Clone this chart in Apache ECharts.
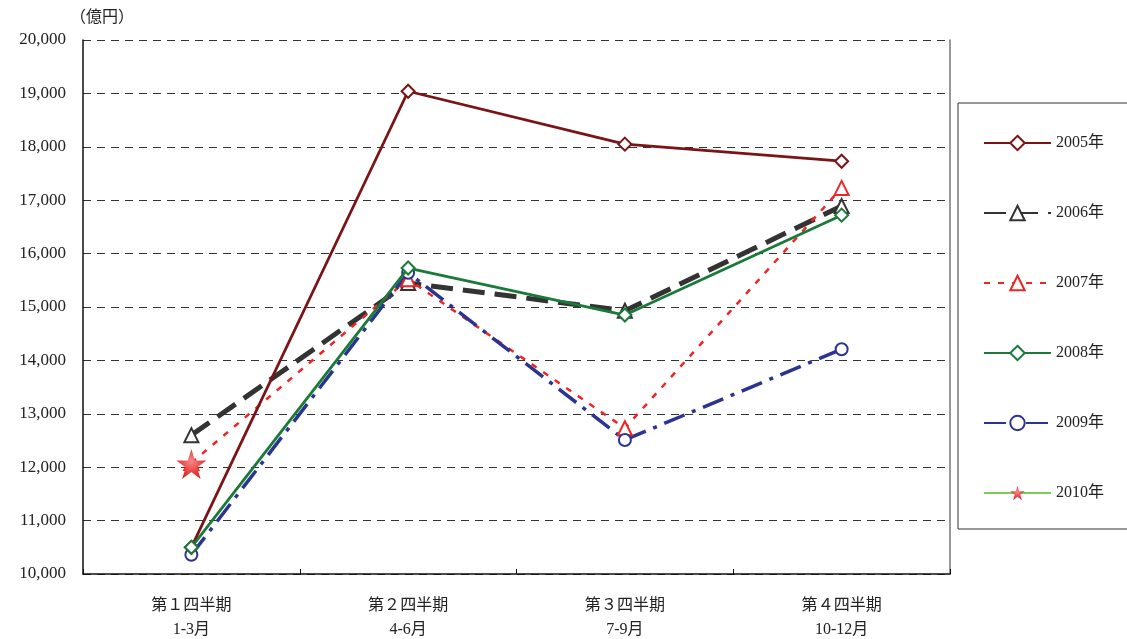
<!DOCTYPE html>
<html>
<head>
<meta charset="utf-8">
<script src="https://cdn.jsdelivr.net/npm/echarts@6/dist/echarts.min.js"></script>
<style>
html,body{margin:0;padding:0;background:#fff;}
#c{width:1127px;height:639px;}
</style>
</head>
<body>
<div id="c"></div>
<script>
const categories = ['第１四半期\n1-3月', '第２四半期\n4-6月', '第３四半期\n7-9月', '第４四半期\n10-12月'];
const s2005 = [10500, 19040, 18050, 17730];
const s2006 = [12600, 15450, 14930, 16890];
const s2007 = [12080, 15520, 12730, 17230];
const s2008 = [10500, 15730, 14850, 16720];
const s2009 = [10360, 15640, 12510, 14210];
const s2010 = [12060, null, null, null];
const seriesNames = ['2005年', '2006年', '2007年', '2008年', '2009年', '2010年'];
const yMin = 10000, yMax = 20000, yStep = 1000;
const unitLabel = '（億円）';

const FONT = '"Liberation Serif", "DejaVu Serif", "Noto Sans CJK JP", serif';
const chart = echarts.init(document.getElementById('c'));
function fmt(v){ return v.toString().replace(/\B(?=(\d{3})+(?!\d))/g, ','); }

const starGrad = new echarts.graphic.RadialGradient(0.5, 0.4, 0.7, [
  {offset: 0, color: '#f58a8a'}, {offset: 0.6, color: '#e83a3a'}, {offset: 1, color: '#c81e1e'}
]);

chart.setOption({
  animation: false,
  textStyle: {fontFamily: FONT},
  graphic: [{
    type: 'text', left: 70, top: 10,
    style: {text: unitLabel, font: '16px ' + FONT, fill: '#222'}
  }],
  legend: {
    orient: 'vertical', left: 958, top: 103,
    padding: [31, 40, 27, 25],
    itemWidth: 67, itemHeight: 18, itemGap: 52,
    borderColor: '#333', borderWidth: 1,
    textStyle: {fontSize: 16, color: '#222', fontFamily: FONT, height: 18, lineHeight: 18},
    data: seriesNames
  },
  grid: {left: 83, right: 177, top: 40, bottom: 65, containLabel: false, outerBoundsMode: 'none'},
  xAxis: {
    type: 'category', data: categories, boundaryGap: true,
    axisLine: {lineStyle: {color: '#111', width: 1.5}},
    axisTick: {show: true, inside: true, length: 5, lineStyle: {color: '#111'}},
    axisLabel: {fontSize: 16, color: '#222', margin: 20, lineHeight: 24, fontFamily: FONT}
  },
  yAxis: [{
    type: 'value', min: yMin, max: yMax, interval: yStep,
    axisLine: {show: true, lineStyle: {color: '#111', width: 1.5}},
    axisTick: {show: false},
    splitLine: {lineStyle: {color: '#333', type: [8, 6], width: 1}},
    axisLabel: {fontSize: 17, color: '#222', margin: 17, formatter: fmt, fontFamily: FONT}
  }, {
    type: 'value', min: yMin, max: yMax, interval: yStep, position: 'right',
    axisLine: {show: true, lineStyle: {color: '#777', width: 1.5}},
    axisTick: {show: false}, axisLabel: {show: false}, splitLine: {show: false}
  }],
  series: [
    {name: seriesNames[0], type: 'line', data: s2005, symbol: 'emptyDiamond', symbolSize: 13,
     lineStyle: {color: '#7a1416', width: 2.8}, itemStyle: {color: '#7a1416', borderWidth: 1.5}, z: 5},
    {name: seriesNames[1], type: 'line', data: s2006, symbol: 'emptyTriangle', symbolSize: 14,
     lineStyle: {color: '#333333', width: 5, type: [22, 10]}, itemStyle: {color: '#333333', borderWidth: 1.5}, z: 3},
    {name: seriesNames[2], type: 'line', data: s2007, symbol: 'emptyTriangle', symbolSize: 14,
     lineStyle: {color: '#f02424', width: 2.5, type: [6, 8]}, itemStyle: {color: '#f02424', borderWidth: 1.5}, z: 4},
    {name: seriesNames[3], type: 'line', data: s2008, symbol: 'emptyDiamond', symbolSize: 13,
     lineStyle: {color: '#1a7a38', width: 2.8}, itemStyle: {color: '#1a7a38', borderWidth: 1.5}, z: 6},
    {name: seriesNames[4], type: 'line', data: s2009, symbol: 'emptyCircle', symbolSize: 12,
     lineStyle: {color: '#2b3590', width: 3.5, type: [22, 8, 4, 8]}, itemStyle: {color: '#2b3590', borderWidth: 1.5}, z: 4},
    {name: seriesNames[5], type: 'line', data: s2010, symbol: 'path://M50,0 L61.8,36.2 L100,36.2 L69.1,58.8 L80.9,95.1 L50,72.7 L19.1,95.1 L30.9,58.8 L0,36.2 L38.2,36.2 Z', symbolSize: 30,
     lineStyle: {color: '#7ccc5a', width: 1.2}, itemStyle: {color: starGrad}, z: 7}
  ]
});
</script>
</body>
</html>
